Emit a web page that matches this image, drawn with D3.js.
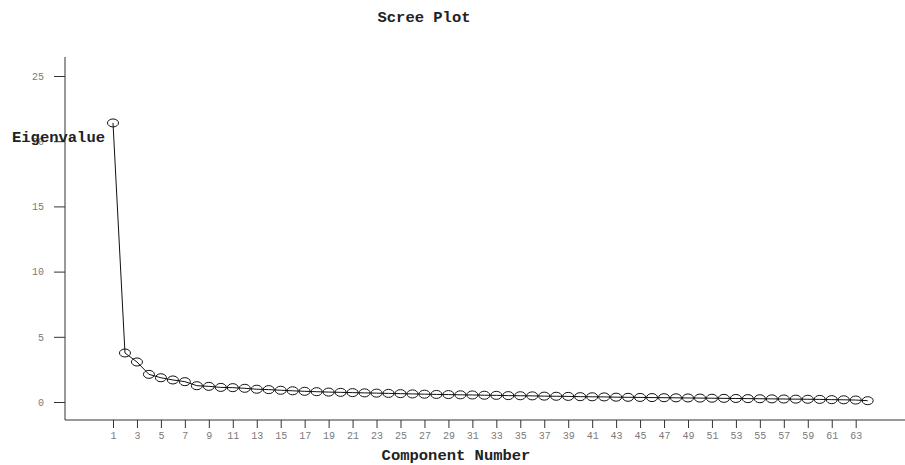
<!DOCTYPE html>
<html>
<head>
<meta charset="utf-8">
<script src="https://cdnjs.cloudflare.com/ajax/libs/d3/7.8.5/d3.min.js"></script>
<style>
  body { margin: 0; background: #fff; }
  .axis text { font-family: "Liberation Mono", "Courier New", monospace; font-size: 10px; fill: #7a7a7a; }
  .axis path, .axis line { stroke: #333; }
  .lbl { font-family: "Liberation Mono", "Courier New", monospace; font-size: 15.5px; font-weight: bold; fill: #222; }
</style>
</head>
<body>
<div id="chart"></div>
<script>
// data
var components = d3.range(1, 65);
var eigenvalues = [21.4, 3.76, 3.07, 2.12, 1.86, 1.69, 1.56, 1.25, 1.2, 1.12,
  1.1, 1.05, 0.98, 0.95, 0.9, 0.86, 0.82, 0.79, 0.76, 0.74,
  0.72, 0.7, 0.68, 0.66, 0.64, 0.62, 0.6, 0.58, 0.57, 0.55,
  0.54, 0.52, 0.51, 0.49, 0.48, 0.47, 0.45, 0.44, 0.43, 0.41,
  0.4, 0.39, 0.37, 0.36, 0.35, 0.34, 0.33, 0.32, 0.31, 0.3,
  0.29, 0.28, 0.27, 0.26, 0.25, 0.24, 0.23, 0.22, 0.21, 0.2,
  0.18, 0.17, 0.15, 0.1];
var xTicks = d3.range(1, 64, 2);
var yTicks = [0, 5, 10, 15, 20, 25];

var width = 905, height = 465;
var svg = d3.select("#chart").append("svg").attr("width", width).attr("height", height);

var x = d3.scaleLinear().domain([1, 63]).range([113, 855.7]);
var y = d3.scaleLinear().domain([0, 25]).range([402, 76]);

var data = components.map(function(c, i) { return {c: c, v: eigenvalues[i]}; });

// axes
var gx = svg.append("g").attr("class", "axis").attr("transform", "translate(0,420)")
  .call(d3.axisBottom(x).tickValues(xTicks).tickSize(8).tickPadding(4).tickSizeOuter(0));
gx.select(".domain").attr("d", "M65,0H905");

var gy = svg.append("g").attr("class", "axis").attr("transform", "translate(65,0)")
  .call(d3.axisLeft(y).tickValues(yTicks).tickSize(11).tickPadding(10).tickSizeOuter(0));
gy.select(".domain").attr("d", "M0,57V420");

// line + markers
var line = d3.line().x(function(d) { return x(d.c); }).y(function(d) { return y(d.v); });
svg.append("path").datum(data).attr("d", line)
  .attr("fill", "none").attr("stroke", "#111").attr("stroke-width", 1);

svg.selectAll(".pt").data(data).enter().append("ellipse")
  .attr("class", "pt")
  .attr("cx", function(d) { return x(d.c); })
  .attr("cy", function(d) { return y(d.v); })
  .attr("rx", 5.5).attr("ry", 4)
  .attr("fill", "none").attr("stroke", "#111").attr("stroke-width", 1);

// labels
svg.append("text").attr("class", "lbl").attr("x", 424).attr("y", 22).attr("text-anchor", "middle").text("Scree Plot");
svg.append("text").attr("class", "lbl").attr("x", 12).attr("y", 142).text("Eigenvalue");
svg.append("text").attr("class", "lbl").attr("x", 456).attr("y", 460).attr("text-anchor", "middle").text("Component Number");
</script>
</body>
</html>
